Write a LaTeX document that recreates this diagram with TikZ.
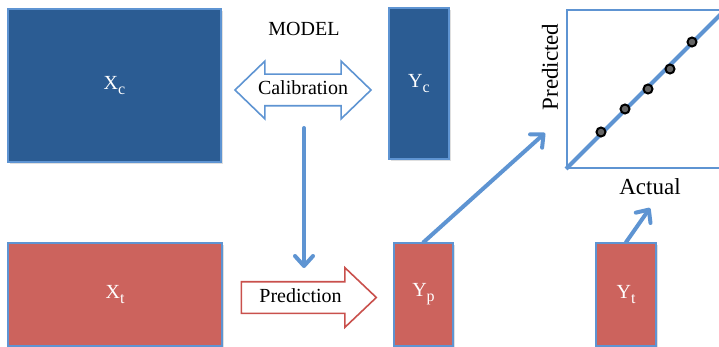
\documentclass[tikz,border=0pt]{standalone}
\usepackage{fontspec}
\setmainfont{Liberation Serif}
\usetikzlibrary{shapes.arrows,arrows.meta,shadows}
\definecolor{boxblue}{HTML}{2B5C93}
\definecolor{lineblue}{HTML}{5E94D2}
\definecolor{boxred}{HTML}{CC635D}
\definecolor{linered}{HTML}{C9504C}
\newcommand{\sublabel}[2]{#1\raisebox{-5pt}{\fontsize{16}{18}\selectfont #2}}

\begin{document}
\begin{tikzpicture}[x=1pt,y=-1pt,
  box/.style={draw=lineblue, line width=1.5pt, inner sep=0pt, text=white,
    font=\fontsize{20}{22}\selectfont,
    drop shadow={shadow xshift=1.5pt, shadow yshift=-2pt, opacity=0.25}},
  calbox/.style={box, fill=boxblue},
  testbox/.style={box, fill=boxred},
  bigarrow/.style={fill=white, line width=1.6pt, inner xsep=4pt, inner ysep=6pt,
    text height=14pt, text depth=4pt, font=\fontsize{20}{24}\selectfont},
  flow/.style={draw=lineblue, line width=4pt, line cap=round,
    -{Straight Barb[length=10pt, width=18pt, line cap=round, line join=round]}},
  axislabel/.style={font=\fontsize{23}{27}\selectfont}
]
\clip (0,0) rectangle (719,347);

\node[calbox, minimum width=213pt, minimum height=153pt] (Xc) at (114.5,85.5) {\sublabel{X}{c}};
\node[calbox, minimum width=60pt, minimum height=151pt] (Yc) at (419,83.5) {\sublabel{Y}{c}};
\node[testbox, minimum width=214pt, minimum height=103pt] (Xt) at (115,294.5) {\sublabel{X}{t}};
\node[testbox, minimum width=59pt, minimum height=103pt] (Yp) at (423.5,294.5) {\sublabel{Y}{p}};
\node[testbox, minimum width=60pt, minimum height=103pt] (Yt) at (626,294.5) {\sublabel{Y}{t}};

\node[font=\fontsize{20}{24}\selectfont] (model) at (304,29) {MODEL};
\node[bigarrow, double arrow, draw=lineblue, double arrow head extend=13pt,
  double arrow tip angle=88, minimum height=136pt] (cal) at (303,90) {Calibration};
\node[bigarrow, single arrow, draw=linered, single arrow head extend=14pt,
  single arrow tip angle=87, minimum height=135pt] (pred) at (300.5,297.5) {Prediction};

\node[draw=lineblue, line width=2pt, minimum size=158pt, inner sep=0pt] (plot) at (646,89) {};
\draw[lineblue, line width=4pt] (plot.south west) -- (plot.north east);
\foreach \p in {(601,132),(625,109),(648,89),(670,69),(692,42)}
  \filldraw[fill=black!60, draw=black, line width=2pt] \p circle (4.5pt);
\node[axislabel, rotate=90] (predlabel) at (550,67) {Predicted};
\node[axislabel] (actlabel) at (650,187) {Actual};

\coordinate (caltop) at (304,128);
\coordinate (predtop) at (304,268);
\coordinate (plottip) at (545,133);
\coordinate (actualtip) at (650,208);
\draw[flow] (caltop) -- (predtop);
\draw[flow] (Yp.north) -- (plottip);
\draw[flow] (Yt.north) -- (actualtip);
\end{tikzpicture}
\end{document}
